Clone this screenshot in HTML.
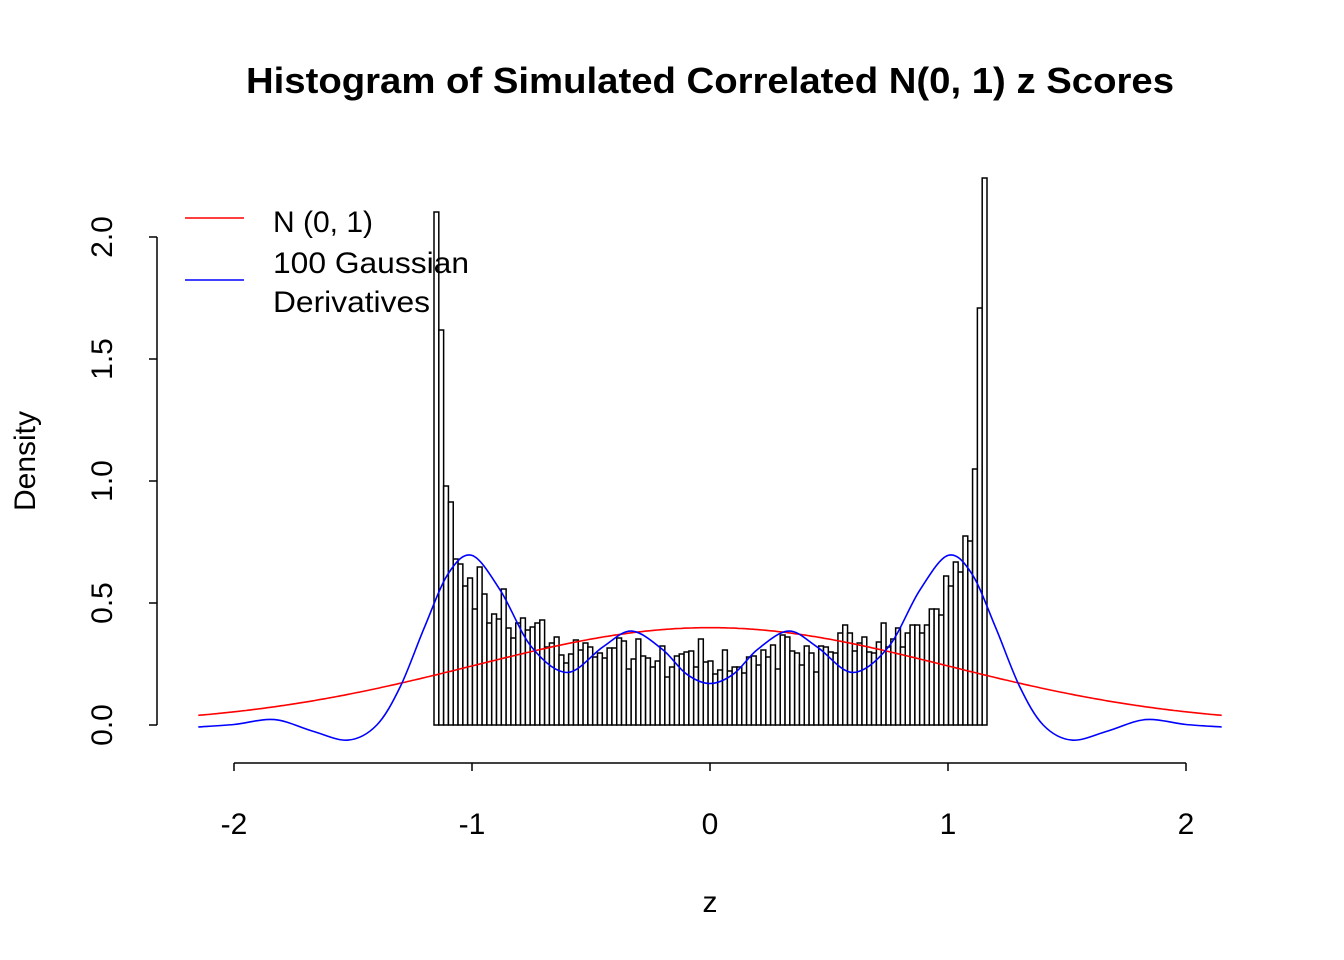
<!DOCTYPE html>
<html><head><meta charset="utf-8"><style>body{margin:0;background:#fff}svg{display:block}text{font-family:"Liberation Sans",Arial,sans-serif}</style></head>
<body>
<svg id="s" width="1344" height="960" viewBox="0 0 1344 960" xmlns="http://www.w3.org/2000/svg">
<rect width="1344" height="960" fill="#fff"/>
<text x="710" y="93" text-anchor="middle" style="font-size:36px;font-weight:bold" textLength="928" lengthAdjust="spacingAndGlyphs">Histogram of Simulated Correlated N(0, 1) z Scores</text>
<g id="bars" fill="#fff" stroke="#000" stroke-width="1.5"></g>
<path id="red" fill="none" stroke="#f00" stroke-width="1.6"/>
<path id="blue" fill="none" stroke="#00f" stroke-width="1.6"/>
<g stroke="#000" stroke-width="1.5" fill="none">
<path d="M157,725V237 M157,725H149 M157,603H149 M157,481H149 M157,359H149 M157,237H149"/>
<path d="M234,763H1186 M234,763V771 M472,763V771 M710,763V771 M948,763V771 M1186,763V771"/>
</g>
<g style="font-size:30px" text-anchor="middle">
<text transform="translate(112,725) rotate(-90)">0.0</text>
<text transform="translate(112,603) rotate(-90)">0.5</text>
<text transform="translate(112,481) rotate(-90)">1.0</text>
<text transform="translate(112,359) rotate(-90)">1.5</text>
<text transform="translate(112,237) rotate(-90)">2.0</text>
<text x="234" y="834">-2</text><text x="472" y="834">-1</text><text x="710" y="834">0</text><text x="948" y="834">1</text><text x="1186" y="834">2</text>
<text x="710" y="912">z</text>
<text transform="translate(35,461) rotate(-90)">Density</text>
</g>
<line x1="185" y1="218" x2="244" y2="218" stroke="#f00" stroke-width="1.6"/>
<line x1="185" y1="280" x2="244" y2="280" stroke="#00f" stroke-width="1.6"/>
<g style="font-size:30px"><text x="273" y="232">N (0, 1)</text><text x="273" y="273" textLength="196" lengthAdjust="spacingAndGlyphs">100 Gaussian</text><text x="273" y="312" textLength="157" lengthAdjust="spacingAndGlyphs">Derivatives</text></g>
</svg>
<script>
var tops=[212,330,486,502,559,564,586,578,609,567,594,623,614,619,589,628,638,623,618,630,627,623,620,647,643,637,655,663,654,640,650,643,647,657,653,658,648,648,
638,641,669,659,639,656,658,667,661,646,677,667,656,654,652,651,667,639,662,661,674,670,650,671,667,667,673,657,656,665,650,657,645,669,635,637,651,653,665,646,653,
672,646,647,652,653,633,625,633,651,643,637,652,653,642,623,647,639,628,647,633,625,625,633,625,609,609,615,576,586,562,572,536,541,469,308,178];
var n=tops.length,w=553/n,g=document.getElementById('bars'),h='';
for(var i=0;i<n;i++){h+='<rect x="'+(434+i*w).toFixed(2)+'" y="'+tops[i]+'" width="'+w.toFixed(2)+'" height="'+(725-tops[i])+'"/>';}
g.innerHTML=h;
function X(z){return 710+238*z}function Y(d){return 725-244*d}
var p='';for(var z=-2.15;z<=2.1501;z+=0.01){var d=Math.exp(-z*z/2)/Math.sqrt(2*Math.PI);p+=(p?'L':'M')+X(z).toFixed(1)+','+Y(d).toFixed(1);}
document.getElementById('red').setAttribute('d',p);
var pts=[[0,0.17],[0.1,0.21],[0.2,0.31],[0.33,0.385],[0.45,0.32],[0.6,0.215],[0.75,0.32],[0.88,0.55],[1.0,0.695],[1.1,0.62],[1.2,0.40],[1.3,0.16],[1.4,0.0],[1.52,-0.062],[1.67,-0.025],[1.83,0.022],[2.0,0.002],[2.15,-0.008]];
var all=[];for(var i=pts.length-1;i>0;i--)all.push([-pts[i][0],pts[i][1]]);for(i=0;i<pts.length;i++)all.push(pts[i]);
var q='M'+X(all[0][0])+','+Y(all[0][1]);
for(i=0;i<all.length-1;i++){var p0=all[Math.max(i-1,0)],p1=all[i],p2=all[i+1],p3=all[Math.min(i+2,all.length-1)];
var a=[X(p0[0]),Y(p0[1])],b=[X(p1[0]),Y(p1[1])],c=[X(p2[0]),Y(p2[1])],e=[X(p3[0]),Y(p3[1])];
var c1=[b[0]+(c[0]-a[0])/6,b[1]+(c[1]-a[1])/6],c2=[c[0]-(e[0]-b[0])/6,c[1]-(e[1]-b[1])/6];
q+='C'+c1[0].toFixed(1)+','+c1[1].toFixed(1)+' '+c2[0].toFixed(1)+','+c2[1].toFixed(1)+' '+c[0].toFixed(1)+','+c[1].toFixed(1);}
document.getElementById('blue').setAttribute('d',q);
</script>
</body></html>
